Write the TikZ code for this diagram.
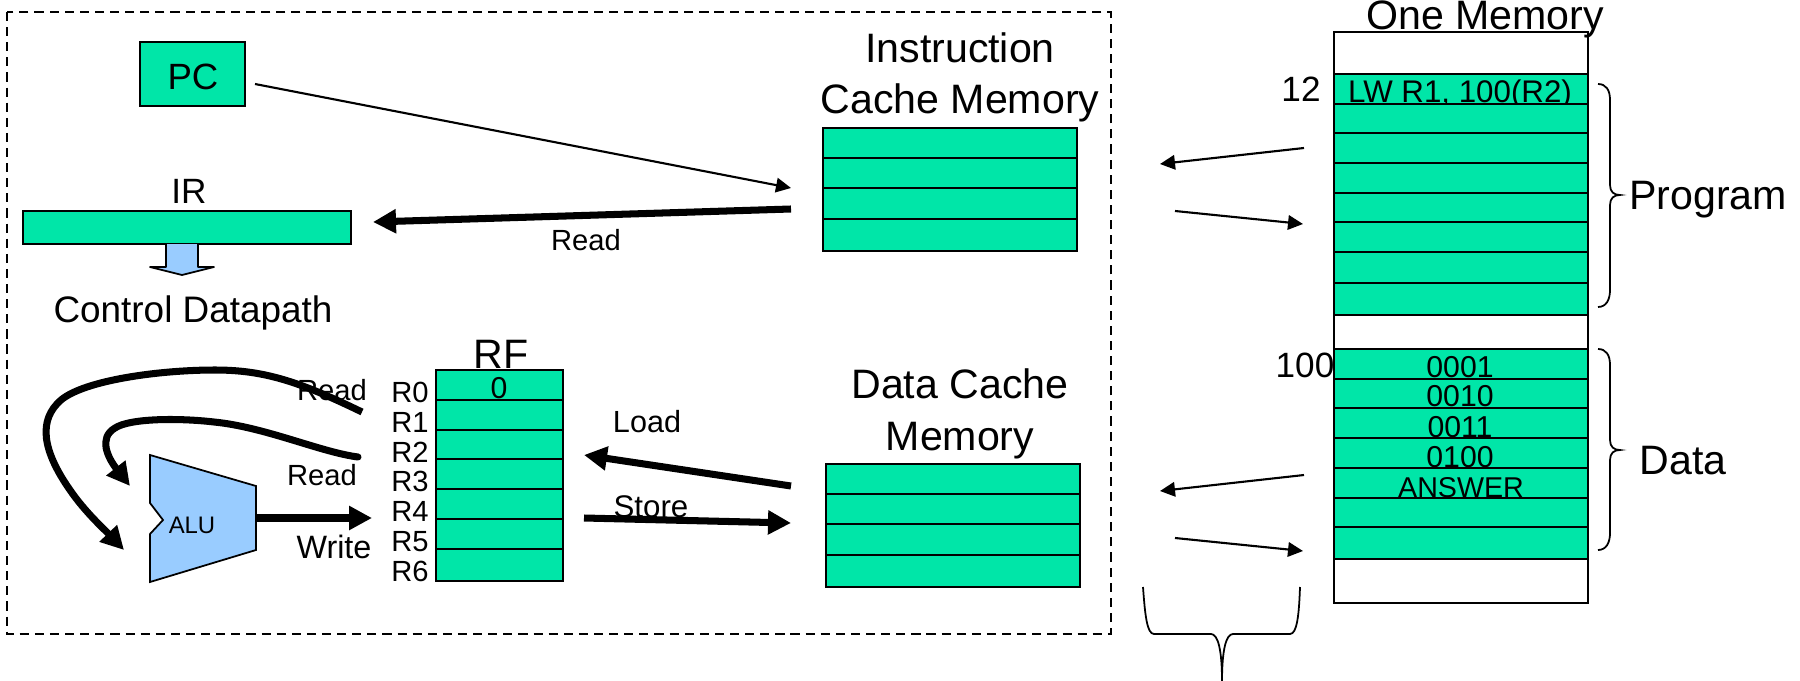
\documentclass[tikz,border=0pt]{standalone}
\usepackage{fontspec}
\setmainfont{Liberation Sans}
\usetikzlibrary{calc,arrows.meta}
\definecolor{memgreen}{HTML}{00E6A8}
\definecolor{alublue}{HTML}{99CCFF}
\tikzset{
	cellrow/.style={draw,fill=memgreen,line width=.5pt,anchor=north west,inner sep=0pt,outer sep=0pt,minimum width=#1},
	txtbig/.style={anchor=base,inner sep=0pt,align=center,font=\fontsize{11.7}{14.6}\selectfont},
	txtmid/.style={anchor=base,inner sep=0pt,font=\fontsize{10}{12}\selectfont},
	txtcell/.style={anchor=base,inner sep=0pt,font=\fontsize{8.6}{10}\selectfont},
	txtsmall/.style={anchor=base,inner sep=0pt,font=\fontsize{8.3}{10}\selectfont},
	thinarrow/.style={line width=.6pt,-{Triangle[length=1.5mm,width=1.45mm]}},
	thickarrow/.style={line width=2pt,-{Triangle[length=2.3mm,width=2.3mm]}},
}

\begin{document}
\begin{tikzpicture}[x=0.1mm,y=-0.1mm]
	\useasboundingbox (0,0) rectangle (1800,681);
	\draw[line width=.5pt,dash pattern=on 2.6pt off 1.7pt] (7,12) rectangle (1111,634);

	% fetch side
	\node (PC) at (140,42)[cellrow=10.5mm,minimum height=6.4mm]{};
	\node (PCtext) at (193,90)[txtmid,font=\fontsize{10.4}{12}\selectfont]{PC};
	\node (IR) at (23,211)[cellrow=32.8mm,minimum height=3.3mm,line width=.4pt]{};
	\node (IRtext) at (189,204)[txtmid]{IR};
	\draw[fill=alublue,line width=.5pt,line join=round] (166,244)--(166,267)--(150,267)--(182,275)--(214,267)--(198,267)--(198,244);
	\node (CtrlText) at (193,322)[txtmid,font=\fontsize{10.5}{12}\selectfont]{Control Datapath};

	\node (ICtext) at (960,114)[txtbig]{Instruction\\Cache Memory};
	\foreach \i/\y/\h in {1/128/30,2/158/30,3/188/31,4/219/32}{
		\node (IC\i) at (823,\y)[cellrow=25.4mm,minimum height=\h*0.1mm]{};
	}
	\coordinate (PCout) at (255,84);
	\coordinate (ICin) at (791,188);
	\coordinate (ICout) at (791,209);
	\coordinate (IRin) at (373,222);
	\draw[thinarrow] (PCout)--(ICin);
	\draw[thickarrow] (ICout)--(IRin);
	\node (ReadIC) at (586,250)[txtsmall]{Read};

	% register file
	\foreach \i/\y/\h/\b in {0/370/30/402,1/400/30/432,2/430/29/462,3/459/30/491,4/489/30/521,5/519/30/551,6/549/32/581}{
		\node (RF\i) at (436,\y)[cellrow=12.7mm,minimum height=\h*0.1mm]{};
		\node (Rname\i) at (410,\b)[txtsmall]{R\i};
	}
	\node (RFtext) at (501,368)[txtbig]{RF};
	\node (RFzero) at (499,398)[txtcell]{0};

	% ALU and the paths round it
	\draw[fill=alublue,line width=.5pt] (150,455)--(256,486)--(256,550)--(150,582)--(150,534)--(163,520)--(150,503)--cycle;
	\node (ALUtext) at (192,533)[anchor=base,inner sep=0pt,font=\fontsize{6.8}{8}\selectfont]{ALU};
	\node (ReadA) at (332,400)[txtsmall]{Read};
	\node (ReadB) at (322,485)[txtsmall]{Read};
	\node (WriteC) at (334,558)[txtsmall,font=\fontsize{9.2}{10}\selectfont]{Write};
	\coordinate (RAout) at (362,412);
	\coordinate (RBout) at (358,457);
	\coordinate (ALUa) at (124,550);
	\coordinate (ALUb) at (130,486);
	\coordinate (ALUout) at (256,518);
	\coordinate (RFin) at (372,518);
	\draw[thickarrow] (RAout) .. controls (300,382) and (265,370) .. (215,370) .. controls (160,370) and (85,380) .. (61,400) .. controls (38,420) and (42,450) .. (70,490) .. controls (85,512) and (105,530) .. (ALUa);
	\draw[thickarrow,line cap=round] (RBout) .. controls (320,452) and (265,427) .. (214,422) .. controls (180,418) and (130,418) .. (115,428) .. controls (98,438) and (108,458) .. (ALUb);
	\draw[thickarrow] (ALUout)--(RFin);

	% data cache
	\node (DCtext) at (960,450)[txtbig]{Data Cache\\Memory};
	\foreach \i/\y/\h in {1/464/30,2/494/30,3/524/31,4/555/32}{
		\node (DC\i) at (826,\y)[cellrow=25.4mm,minimum height=\h*0.1mm]{};
	}
	\node (LoadText) at (647,432)[txtsmall,font=\fontsize{8.7}{10}\selectfont]{Load};
	\node (StoreText) at (651,517)[txtsmall,font=\fontsize{8.9}{10}\selectfont]{Store};
	\coordinate (DCout) at (791,486);
	\coordinate (RFload) at (584,455);
	\coordinate (RFstore) at (584,518);
	\coordinate (DCin) at (791,523);
	\draw[thickarrow] (DCout)--(RFload);
	\draw[thickarrow] (RFstore)--(DCin);

	% main memory
	\node (Mem) at (1334,32)[cellrow=25.4mm,minimum height=57.1mm,fill=white]{};
	\node (MemText) at (1485,30)[txtbig]{One Memory};
	\node (P1) at (1334,74)[cellrow=25.4mm,minimum height=3mm]{};
	\node (P1text) at (1460,103)[txtcell,font=\fontsize{8.9}{10}\selectfont]{LW R1, 100(R2)};
	\foreach \i/\y/\h in {2/104/29,3/133/30,4/163/30,5/193/29,6/222/30,7/252/31,8/283/32}{
		\node (P\i) at (1334,\y)[cellrow=25.4mm,minimum height=\h*0.1mm]{};
	}
	\foreach \i/\y/\h/\b/\t in {1/349/30/377/0001,2/379/29/406/0010,3/408/30/437/0011,4/438/30/467/0100}{
		\node (D\i) at (1334,\y)[cellrow=25.4mm,minimum height=\h*0.1mm]{};
		\node (D\i text) at (1460,\b)[txtcell]{\t};
	}
	\node (D5) at (1334,468)[cellrow=25.4mm,minimum height=3mm]{};
	\node (D5text) at (1461,497)[txtcell,font=\fontsize{8.15}{10}\selectfont]{ANSWER};
	\node (D6) at (1334,498)[cellrow=25.4mm,minimum height=2.9mm]{};
	\node (D7) at (1334,527)[cellrow=25.4mm,minimum height=3.2mm]{};
	\node (AddrP) at (1301,102)[txtmid]{12};
	\node (AddrD) at (1305,377)[txtmid]{100};
	\node (ProgText) at (1708,210)[txtbig]{Program};
	\node (DataText) at (1683,474)[txtbig]{Data};

	\draw[line width=.5pt] (1598,84) .. controls (1606,84) and (1610,90) .. (1610,100) -- (1610,185) .. controls (1610,192) and (1614,195) .. (1620,195) .. controls (1614,195) and (1610,198) .. (1610,205) -- (1610,290) .. controls (1610,300) and (1606,307) .. (1598,307);
	\draw[line width=.5pt] (1598,349) .. controls (1606,349) and (1610,355) .. (1610,365) -- (1610,440) .. controls (1610,447) and (1614,450) .. (1620,450) .. controls (1614,450) and (1610,453) .. (1610,460) -- (1610,533) .. controls (1610,543) and (1606,550) .. (1598,550);
	\draw[line width=.5pt] (1143,587) .. controls (1145,615) and (1147,634) .. (1154,634) -- (1211,634) .. controls (1218,634) and (1222,650) .. (1222,681) .. controls (1222,650) and (1226,634) .. (1233,634) -- (1290,634) .. controls (1297,634) and (1299,615) .. (1300,587);

	\coordinate (M1a) at (1304,148);
	\coordinate (M1b) at (1160,164);
	\coordinate (M2a) at (1175,211);
	\coordinate (M2b) at (1303,224);
	\coordinate (M3a) at (1304,475);
	\coordinate (M3b) at (1160,491);
	\coordinate (M4a) at (1175,538);
	\coordinate (M4b) at (1303,551);
	\draw[thinarrow] (M1a)--(M1b);
	\draw[thinarrow] (M2a)--(M2b);
	\draw[thinarrow] (M3a)--(M3b);
	\draw[thinarrow] (M4a)--(M4b);
\end{tikzpicture}
\end{document}
